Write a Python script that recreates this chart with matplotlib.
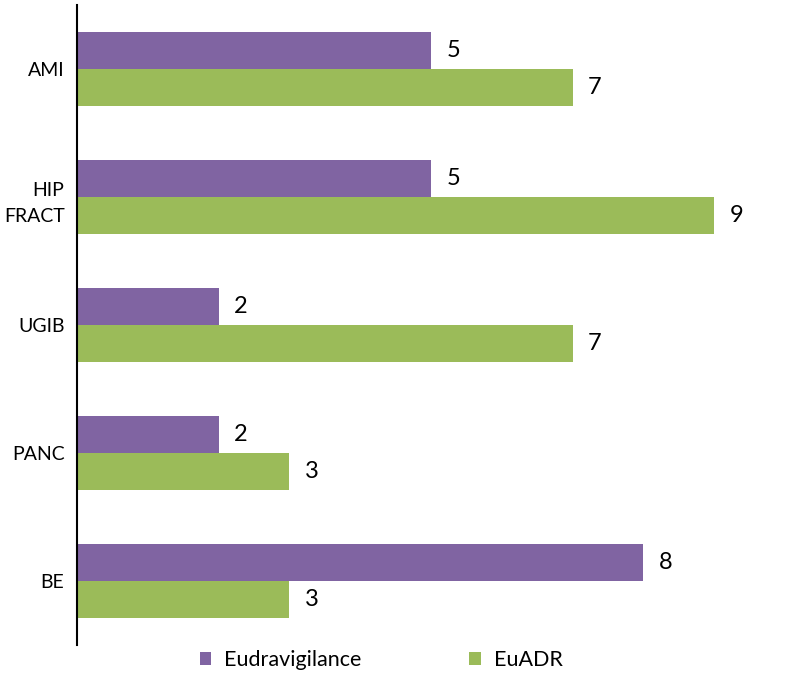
import matplotlib
matplotlib.use("Agg")
import matplotlib.pyplot as plt
import numpy as np

categories = ["AMI", "HIP\nFRACT", "UGIB", "PANC", "BE"]
eudravigilance = [5, 5, 2, 2, 8]
euadr = [7, 9, 7, 3, 3]

plt.rcParams['font.family'] = ['Lato', 'DejaVu Sans']

fig = plt.figure(figsize=(7.86, 6.75), dpi=100)
ax = fig.add_axes([77/786, 30/675, 708/786, 640/675])

y = np.arange(len(categories))
h = 0.29
purple = "#8064A2"
green = "#9BBB59"
b1 = ax.barh(y - h/2, eudravigilance, height=h, color=purple, label="Eudravigilance")
b2 = ax.barh(y + h/2, euadr, height=h, color=green, label="EuADR")

for bars, vals in ((b1, eudravigilance), (b2, euadr)):
    for bar, v in zip(bars, vals):
        ax.text(bar.get_width() + 0.22, bar.get_y() + bar.get_height()/2, str(v),
                va='center', ha='left', fontsize=17)

ax.set_xlim(0, 10)
ax.set_ylim(len(categories) - 0.5, -0.5)
ax.set_yticks(y)
ax.set_yticklabels(categories, fontsize=14, ha='right', linespacing=1.65)
ax.tick_params(axis='y', length=0, pad=9)
ax.set_xticks([])
for s in ['top', 'right', 'bottom']:
    ax.spines[s].set_visible(False)
ax.spines['left'].set_linewidth(1.5)

fig.legend(handles=[b1, b2], labels=["Eudravigilance", "EuADR"], loc='lower center',
           bbox_to_anchor=(0.485, -0.022), ncol=2, frameon=False, fontsize=15.5,
           handlelength=0.55, handleheight=0.55, columnspacing=5.0, handletextpad=0.6)

fig.savefig("out.png", dpi=100)
